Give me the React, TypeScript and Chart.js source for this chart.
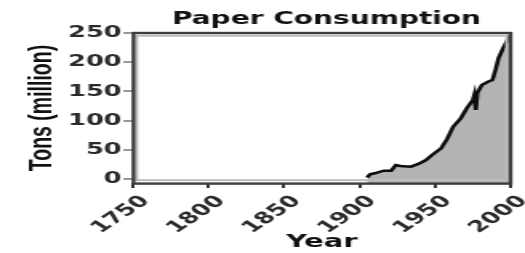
import { useEffect, useRef } from 'react';
import { Chart, registerables } from 'chart.js';

Chart.register(...registerables);

// Data
const years = [1905, 1907, 1910, 1916, 1921, 1924, 1927, 1934, 1939, 1944, 1948, 1954, 1958, 1962, 1967, 1971, 1975, 1976, 1977, 1978, 1981, 1985, 1988, 1990, 1992, 1995, 1998, 2000];
const tons = [2.4, 7.9, 9.6, 14.1, 14.1, 23.8, 22.1, 20.9, 25.6, 32.4, 41, 52.4, 68.4, 89.5, 103.8, 121, 135, 144, 118, 147, 161, 166.5, 169.5, 186.6, 206.6, 223.8, 238, 246.6];
const xTickValues = [1750, 1800, 1850, 1900, 1950, 2000];
const yTickValues = [0, 50, 100, 150, 200, 250];

const FONT = '"DejaVu Sans", sans-serif';
const FONT2 = '"Liberation Sans", Arial, sans-serif';
const CW = 328;
const CH = 253;

const framePlugin = {
  id: 'frame',
  afterLayout(chart: any) {
    const t = chart.titleBlock;
    if (t) {
      t.left = 80;
      t.right = 328;
    }
  },
  afterDatasetsDraw(chart: any) {
    const { ctx, chartArea } = chart;
    const { left, top, right, bottom } = chartArea;
    ctx.save();
    // inner light strip
    ctx.strokeStyle = '#bdbdbd';
    ctx.lineWidth = 2;
    ctx.strokeRect(left + 2.4, top + 2.8, right - left - 4.8, bottom - top - 5.6);
    // outer dark frame
    ctx.strokeStyle = '#3c3c3c';
    ctx.lineWidth = 2.4;
    ctx.strokeRect(left + 0.4, top, right - left - 0.4, bottom - top + 0.6);
    ctx.restore();
  },
};

export default function App() {
  const ref = useRef<HTMLCanvasElement | null>(null);

  useEffect(() => {
    document.body.style.margin = '0';
    const canvas = ref.current;
    if (!canvas) return;
    const chart = new Chart(canvas, {
      type: 'line',
      data: {
        datasets: [
          {
            data: years.map((y, i) => ({ x: y, y: tons[i] })),
            borderColor: '#0d0d0d',
            borderWidth: 2.6,
            backgroundColor: '#b4b4b4',
            fill: 'start',
            pointRadius: 0,
            tension: 0,
          },
        ],
      },
      options: {
        animation: false,
        responsive: false,
        devicePixelRatio: 1,
        layout: { padding: { left: 0, right: 9, top: 0, bottom: 0 } },
        plugins: {
          legend: { display: false },
          tooltip: { enabled: false },
          title: {
            display: true,
            text: 'Paper Consumption',
            color: '#111',
            font: { family: FONT, size: 17.5, weight: 'bold', lineHeight: 1.2 },
            padding: { top: 9, bottom: 3 },
          },
        },
        scales: {
          x: {
            type: 'linear',
            min: 1750,
            max: 2000,
            border: { display: false },
            grid: { display: true, drawOnChartArea: false, drawTicks: true, tickLength: 5, color: '#333', lineWidth: 2 },
            ticks: {
              autoSkip: false,
              minRotation: 46,
              maxRotation: 46,
              padding: 4,
              labelOffset: 8,
              color: '#2a2a2a',
              font: { family: FONT, size: 16, weight: 'bold' },
              callback: (v: any) => String(v),
            },
            title: {
              display: true,
              text: 'Year',
              color: '#111',
              font: { family: FONT, size: 18, weight: 'bold', lineHeight: 1.2 },
              padding: { top: 0, bottom: 0 },
            },
            afterBuildTicks: (scale: any) => {
              scale.ticks = xTickValues.map((v) => ({ value: v }));
            },
            afterFit: (scale: any) => {
              scale.height = 70;
              scale.paddingLeft = 0;
              scale.paddingRight = 0;
            },
          },
          y: {
            type: 'linear',
            min: -7,
            max: 250,
            border: { display: false },
            grid: { display: true, drawOnChartArea: false, drawTicks: true, tickLength: 6, color: '#9a9a9a', lineWidth: 2 },
            ticks: {
              padding: 1,
              color: '#2a2a2a',
              font: { family: FONT, size: 16, weight: 'bold' },
              callback: (v: any) => String(v),
            },
            title: {
              display: true,
              text: 'Tons (million)',
              color: '#111',
              font: { family: FONT2, size: 19.5, weight: 'bold', lineHeight: 1.2 },
              padding: { top: 15.3, bottom: 0 },
            },
            afterBuildTicks: (scale: any) => {
              scale.ticks = yTickValues.map((v) => ({ value: v }));
            },
            afterFit: (scale: any) => {
              scale.width = 83;
              scale.paddingTop = 0;
              scale.paddingBottom = 0;
            },
          },
        },
      },
      plugins: [framePlugin],
    });
    return () => chart.destroy();
  }, []);

  return (
    <canvas
      ref={ref}
      width={CW}
      height={CH}
      style={{ width: '525px', height: '253px', display: 'block' }}
    />
  );
}
